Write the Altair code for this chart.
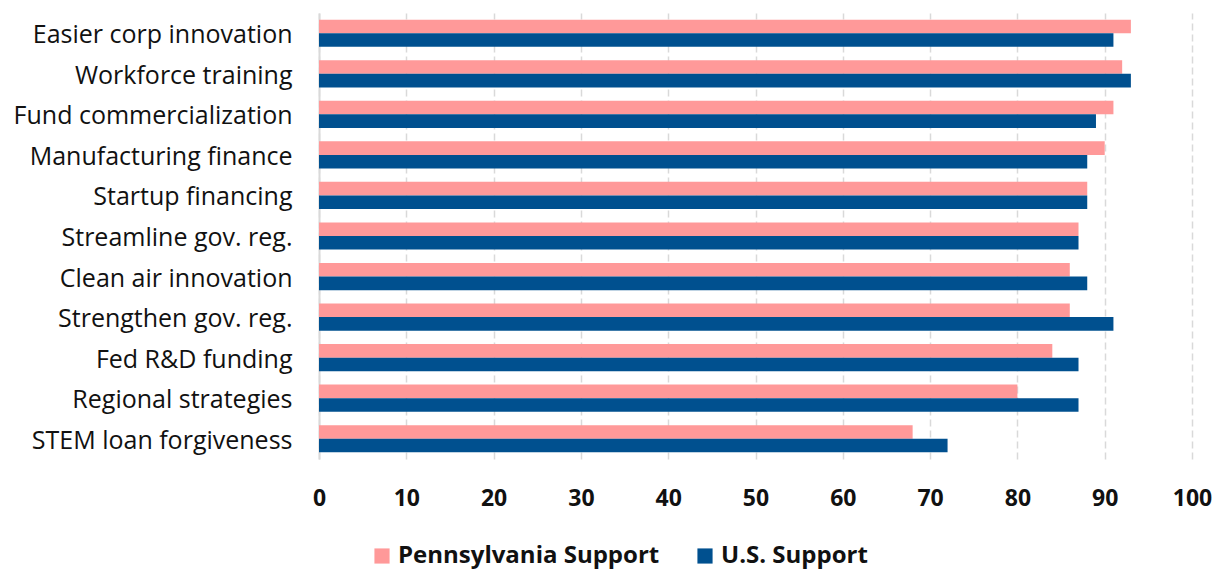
import altair as alt
import pandas as pd

categories = [
    "Easier corp innovation",
    "Workforce training",
    "Fund commercialization",
    "Manufacturing finance",
    "Startup financing",
    "Streamline gov. reg.",
    "Clean air innovation",
    "Strengthen gov. reg.",
    "Fed R&D funding",
    "Regional strategies",
    "STEM loan forgiveness",
]
pennsylvania = [93, 92, 91, 90, 88, 87, 86, 86, 84, 80, 68]
us = [91, 93, 89, 88, 88, 87, 88, 91, 87, 87, 72]
series = ["Pennsylvania Support", "U.S. Support"]
colors = ["#FF9999", "#00508F"]
x_ticks = [0, 10, 20, 30, 40, 50, 60, 70, 80, 90, 100]

rows = []
for cat, p, u in zip(categories, pennsylvania, us):
    rows.append({"policy": cat, "group": series[0], "value": p})
    rows.append({"policy": cat, "group": series[1], "value": u})
df = pd.DataFrame(rows)

FONT = "Open Sans"

chart = (
    alt.Chart(df)
    .mark_bar()
    .encode(
        y=alt.Y(
            "policy:N",
            sort=categories,
            title=None,
            scale=alt.Scale(paddingInner=0.33, paddingOuter=0.165),
            axis=alt.Axis(
                ticks=False,
                labelFontSize=25,
                labelFont=FONT,
                labelColor="#111111",
                labelPadding=27,
                labelOffset=2,
                labelLimit=400,
                domain=True,
                domainColor="#D9D9D9",
                domainWidth=2,
            ),
        ),
        yOffset=alt.YOffset("group:N", sort=series, scale=alt.Scale(paddingInner=0, paddingOuter=0)),
        x=alt.X(
            "value:Q",
            title=None,
            scale=alt.Scale(domain=[0, 100], nice=False),
            axis=alt.Axis(
                values=x_ticks,
                ticks=False,
                domain=False,
                grid=True,
                gridColor="#D9D9D9",
                gridWidth=1.5,
                gridDash=[7, 4],
                labelFontSize=23,
                labelFont=FONT,
                labelFontWeight="bold",
                labelColor="#111111",
                labelPadding=28,
                labelFlush=False,
                labelOverlap=False,
            ),
        ),
        color=alt.Color(
            "group:N",
            sort=series,
            scale=alt.Scale(domain=series, range=colors),
            legend=alt.Legend(
                title=None,
                orient="none",
                direction="horizontal",
                legendX=51,
                legendY=531,
                symbolType="square",
                symbolSize=230,
                symbolStrokeWidth=0,
                labelFontSize=24,
                labelFont=FONT,
                labelFontWeight="bold",
                labelColor="#111111",
                labelLimit=400,
                columnPadding=33,
                symbolOffset=0,
            ),
        ),
    )
    .properties(
        width=873,
        height=446,
        padding={"left": 319, "top": 13, "right": 23, "bottom": 110},
        autosize=alt.AutoSizeParams(type="none"),
        background="white",
    )
    .configure_view(stroke=None)
)

chart.save("out.html", embed_options={"renderer": "svg", "actions": False})
